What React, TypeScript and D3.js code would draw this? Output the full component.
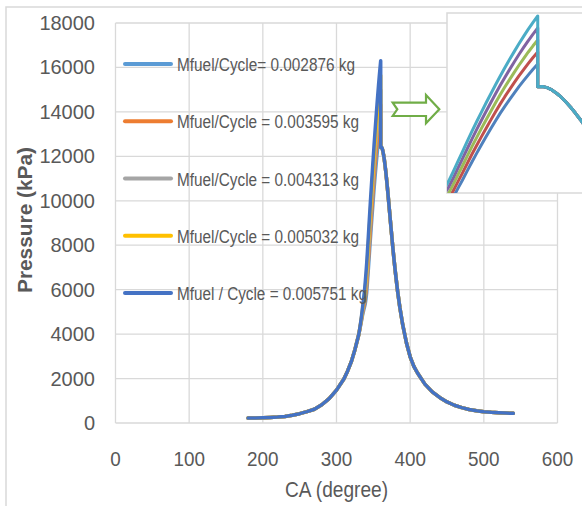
import React from 'react';
import * as d3 from 'd3';

// ---- data ----
const X_TICKS = [0, 100, 200, 300, 400, 500, 600];
const Y_TICKS = [0, 2000, 4000, 6000, 8000, 10000, 12000, 14000, 16000, 18000];

const LEGEND_LABELS = [
  'Mfuel/Cycle= 0.002876 kg',
  'Mfuel/Cycle = 0.003595 kg',
  'Mfuel/Cycle = 0.004313 kg',
  'Mfuel/Cycle = 0.005032 kg',
  'Mfuel / Cycle = 0.005751 kg',
];

// shared compression part
const CA_PRE = [180, 190, 200, 210, 220, 230, 240, 250, 260, 270, 280, 290, 300, 310, 315, 320, 325];
const P_PRE = [220, 225, 235, 250, 268, 295, 350, 420, 510, 620, 820, 1100, 1480, 1980, 2330, 2750, 3300];

// combustion rise, per series
const CA_RISE = [330, 331, 332, 333, 334, 335, 336, 337, 338, 339, 340, 341, 342, 343, 344, 345, 346, 347, 348, 349, 350, 351, 352, 353, 354, 355, 356, 357, 358, 359, 360];
const P_RISE_1 = [3950, 4100, 4270, 4440, 4610, 4780, 4950, 5080, 5220, 5350, 5580, 5870, 6320, 6800, 7280, 7780, 8270, 8740, 9200, 9650, 10090, 10520, 10940, 11330, 11700, 12060, 12410, 12740, 13060, 13370, 13660];
const P_RISE_2 = [3950, 4110, 4290, 4475, 4665, 4860, 5050, 5210, 5365, 5595, 5870, 6200, 6670, 7170, 7670, 8185, 8690, 9175, 9650, 10115, 10570, 11015, 11450, 11860, 12250, 12630, 13000, 13350, 13690, 14015, 14320];
const P_RISE_3 = [3950, 4120, 4310, 4510, 4720, 4940, 5160, 5360, 5560, 5840, 6160, 6530, 7020, 7540, 8060, 8590, 9110, 9610, 10100, 10580, 11050, 11510, 11960, 12390, 12800, 13200, 13590, 13960, 14320, 14660, 14980];
const P_RISE_4 = [3950, 4130, 4330, 4545, 4775, 5020, 5270, 5510, 5755, 6085, 6450, 6860, 7370, 7910, 8450, 8995, 9530, 10045, 10550, 11045, 11530, 12005, 12470, 12920, 13350, 13770, 14180, 14570, 14950, 15305, 15640];
const P_RISE_5 = [3950, 4140, 4350, 4580, 4830, 5100, 5380, 5660, 5950, 6330, 6740, 7190, 7720, 8280, 8840, 9400, 9950, 10480, 11000, 11510, 12010, 12500, 12980, 13450, 13900, 14340, 14770, 15180, 15580, 15950, 16300];

// shared expansion part
const CA_POST = [360, 361, 362, 363, 364, 365, 366, 367, 368, 369, 370, 372, 374, 376, 378, 380, 383, 386, 390, 395, 400, 405, 410, 420, 430, 440, 450, 460, 470, 480, 490, 500, 510, 520, 530, 540];
const P_POST = [12400, 12420, 12360, 12230, 12050, 11830, 11570, 11280, 10960, 10620, 10260, 9520, 8780, 8060, 7380, 6760, 5920, 5200, 4400, 3600, 2980, 2550, 2250, 1750, 1400, 1150, 950, 800, 690, 610, 550, 510, 480, 460, 445, 435];

const RISES = [P_RISE_1, P_RISE_2, P_RISE_3, P_RISE_4, P_RISE_5];

const MAIN_COLORS = ['#5B9BD5', '#ED7D31', '#A5A5A5', '#FFC000', '#4472C4'];
const INSET_COLORS = ['#4F81BD', '#C0504D', '#9BBB59', '#8064A2', '#4BACC6'];
const LEGEND_WIDTHS = [178, 182, 182, 182, 190];

function buildSeries(rise: number[]): [number, number][] {
  const pts: [number, number][] = [];
  CA_PRE.forEach((c, i) => pts.push([c, P_PRE[i]]));
  CA_RISE.forEach((c, i) => pts.push([c, rise[i]]));
  CA_POST.forEach((c, i) => pts.push([c, P_POST[i]]));
  return pts;
}

const FONT = '"Liberation Sans", Arial, sans-serif';
const TXT = '#595959';
const GRID = '#D9D9D9';

export default function App() {
  const x = d3.scaleLinear().domain([0, 600]).range([115.5, 557.5]);
  const y = d3.scaleLinear().domain([0, 18000]).range([423, 23]);
  const xi = d3.scaleLinear().domain([340.7, 369.5]).range([447, 582.4]);
  const yi = d3.scaleLinear().domain([6560, 16300]).range([193, 16]);

  const series = RISES.map(buildSeries);
  const mainLine = d3.line<[number, number]>().x(d => x(d[0])).y(d => y(d[1]));
  const insetLine = d3.line<[number, number]>().x(d => xi(d[0])).y(d => yi(d[1]));

  return (
    <svg width={582} height={506} style={{ position: 'absolute', left: 0, top: 0, background: '#fff' }} fontFamily={FONT}>
      <rect x={0} y={0} width={582} height={506} fill="#fff" />
      {/* outer chart border */}
      <rect x={6} y={7} width={620} height={540} fill="none" stroke={GRID} strokeWidth={1.5} />

      {/* gridlines */}
      {Y_TICKS.map(t => (
        <line key={'gy' + t} x1={x(0)} x2={x(600)} y1={y(t)} y2={y(t)} stroke={GRID} strokeWidth={1.3} />
      ))}
      {X_TICKS.map(t => (
        <line key={'gx' + t} x1={x(t)} x2={x(t)} y1={y(0)} y2={y(18000)} stroke={GRID} strokeWidth={1.3} />
      ))}

      {/* y tick labels */}
      {Y_TICKS.map(t => (
        <text key={'ty' + t} x={95} y={y(t) + 7} textAnchor="end" fontSize={20} fill={TXT}>{t}</text>
      ))}
      {/* x tick labels */}
      {X_TICKS.map(t => (
        <text key={'tx' + t} x={x(t)} y={466} textAnchor="middle" fontSize={20} fill={TXT}
          textLength={String(t).length * 10.5} lengthAdjust="spacingAndGlyphs">{t}</text>
      ))}

      {/* axis titles */}
      <text x={336.5} y={497} textAnchor="middle" fontSize={22} fill={TXT} textLength={103} lengthAdjust="spacingAndGlyphs">CA (degree)</text>
      <text transform="translate(31.5,220) rotate(-90)" textAnchor="middle" fontSize={20} fontWeight="bold" fill={TXT}
        textLength={146} lengthAdjust="spacingAndGlyphs">Pressure (kPa)</text>

      {/* main series */}
      {series.map((s, i) => (
        <path key={'m' + i} d={mainLine(s) || ''} fill="none" stroke={MAIN_COLORS[i]} strokeWidth={3.5} strokeLinejoin="round" strokeLinecap="round" />
      ))}

      {/* legend */}
      {LEGEND_LABELS.map((l, i) => {
        const ly = 64 + i * 57.25;
        return (
          <g key={'lg' + i}>
            <line x1={125} x2={171} y1={ly} y2={ly} stroke={MAIN_COLORS[i]} strokeWidth={4} strokeLinecap="round" />
            <text x={177} y={ly + 7} fontSize={18} fill={TXT} textLength={LEGEND_WIDTHS[i]} lengthAdjust="spacingAndGlyphs">{l}</text>
          </g>
        );
      })}

      {/* arrow */}
      <path d="M392.7,102.7 L426,102.7 L426,95 L439.3,109.3 L426,123.3 L426,116 L392.7,116 L397.3,109.3 Z"
        fill="#fff" stroke="#70AD47" strokeWidth={2.2} strokeLinejoin="miter" />

      {/* inset */}
      <defs>
        <clipPath id="insetClip">
          <rect x={447} y={13} width={140} height={180} />
        </clipPath>
      </defs>
      <rect x={447} y={13} width={150} height={180} fill="#fff" stroke={GRID} strokeWidth={1.5} />
      <g clipPath="url(#insetClip)">
        {series.map((s, i) => (
          <path key={'in' + i} d={insetLine(s) || ''} fill="none" stroke={INSET_COLORS[i]} strokeWidth={3} strokeLinejoin="round" />
        ))}
      </g>
    </svg>
  );
}
